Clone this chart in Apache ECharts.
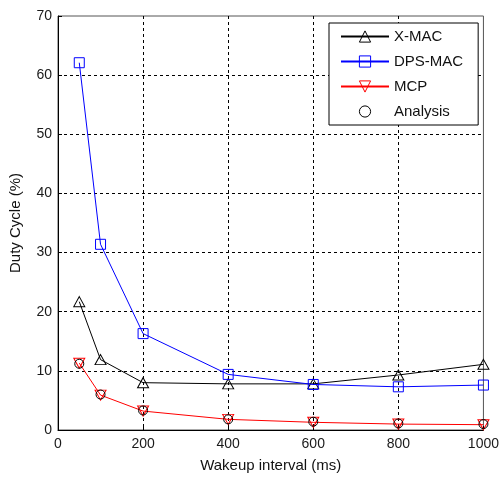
<!DOCTYPE html>
<html>
<head>
<meta charset="utf-8">
<script src="https://cdn.jsdelivr.net/npm/echarts@6/dist/echarts.min.js"></script>
<style>
  html, body { margin: 0; padding: 0; background: #fff; }
  #chart { width: 502px; height: 478px; }
</style>
</head>
<body>
<div id="chart"></div>
<script>
// Wakeup interval (ms) on the x axis
const intervals = [50, 100, 200, 400, 600, 800, 1000];
// Duty cycle (%) per protocol
const xmac = [21.7, 11.9, 8.0, 7.8, 7.8, 9.3, 11.1];
const dpsmac = [62.1, 31.4, 16.3, 9.4, 7.7, 7.3, 7.6];
const mcp = [11.3, 5.9, 3.2, 1.8, 1.3, 1.0, 0.9];
const analysis = [11.2, 6.0, 3.3, 1.8, 1.4, 1.1, 1.0];

const seriesNames = ['X-MAC', 'DPS-MAC', 'MCP', 'Analysis'];

function pairs(values) {
  return intervals.map((x, i) => [x, values[i]]);
}

const font = 'Liberation Sans, Arial, sans-serif';
const chart = echarts.init(document.getElementById('chart'), null, { renderer: 'canvas' });

const gridLine = { show: true, showMaxLine: false, showMinLine: false,
  lineStyle: { color: '#000', type: [3, 3], width: 1 } };

chart.setOption({
  animation: false,
  backgroundColor: '#fff',
  grid: { left: 58, right: 18.5, top: 16, bottom: 43.7, show: true,
    borderColor: '#555', borderWidth: 1, backgroundColor: 'transparent' },
  legend: {
    data: seriesNames,
    orient: 'vertical',
    left: 329, top: 23,
    padding: [6, 15, 6, 11],
    itemWidth: 48, itemHeight: 14, itemGap: 10,
    backgroundColor: '#fff',
    borderColor: '#000', borderWidth: 1,
    itemStyle: { borderWidth: 1 },
    textStyle: { fontFamily: font, fontSize: 15, color: '#111' }
  },
  xAxis: {
    type: 'value', min: 0, max: 1000, interval: 200,
    name: 'Wakeup interval (ms)', nameLocation: 'middle', nameGap: 28,
    nameTextStyle: { fontFamily: font, fontSize: 15, color: '#111' },
    axisLine: { show: true, onZero: false, lineStyle: { color: '#000', width: 1 } },
    axisTick: { show: true, inside: true, length: 4, lineStyle: { color: '#000' } },
    axisLabel: { fontFamily: font, fontSize: 14, color: '#1a1a1a', margin: 7,
      formatter: v => String(v) },
    splitLine: gridLine
  },
  yAxis: {
    type: 'value', min: 0, max: 70, interval: 10,
    name: 'Duty Cycle (%)', nameLocation: 'middle', nameGap: 35,
    nameTextStyle: { fontFamily: font, fontSize: 15, color: '#111' },
    axisLine: { show: true, onZero: false, lineStyle: { color: '#000', width: 1 } },
    axisTick: { show: true, inside: true, length: 4, lineStyle: { color: '#000' } },
    axisLabel: { fontFamily: font, fontSize: 14, color: '#1a1a1a', margin: 6,
      formatter: v => String(v) },
    splitLine: gridLine
  },
  series: [
    {
      name: seriesNames[0], type: 'line', data: pairs(xmac),
      symbol: 'triangle', symbolSize: [11, 10],
      lineStyle: { color: '#000', width: 1 },
      itemStyle: { color: 'transparent', borderColor: '#000', borderWidth: 1 },
      emphasis: { disabled: true }, z: 2
    },
    {
      name: seriesNames[1], type: 'line', data: pairs(dpsmac),
      symbol: 'rect', symbolSize: 10,
      lineStyle: { color: '#0000ff', width: 1 },
      itemStyle: { color: 'transparent', borderColor: '#0000ff', borderWidth: 1 },
      emphasis: { disabled: true }, z: 3
    },
    {
      name: seriesNames[2], type: 'line', data: pairs(mcp),
      symbol: 'triangle', symbolRotate: 180, symbolSize: [11, 10],
      lineStyle: { color: '#ff0000', width: 1 },
      itemStyle: { color: 'transparent', borderColor: '#ff0000', borderWidth: 1 },
      emphasis: { disabled: true }, z: 4
    },
    {
      name: seriesNames[3], type: 'line', data: pairs(analysis),
      symbol: 'circle', symbolSize: 9,
      lineStyle: { color: '#000', width: 0, opacity: 0 },
      itemStyle: { color: 'transparent', borderColor: '#000', borderWidth: 1 },
      emphasis: { disabled: true }, z: 5
    }
  ]
});
</script>
</body>
</html>
